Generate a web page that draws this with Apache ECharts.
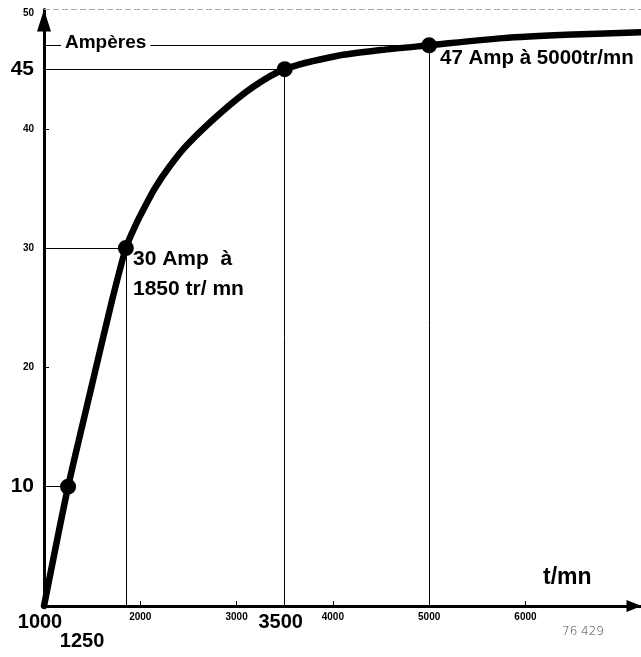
<!DOCTYPE html>
<html>
<head>
<meta charset="utf-8">
<script src="https://cdn.jsdelivr.net/npm/echarts@6/dist/echarts.min.js"></script>
<style>
html,body{margin:0;padding:0;background:#fff;}
#chart{width:641px;height:657px;}
</style>
</head>
<body>
<div id="chart"></div>
<script>
// Curve (rpm -> amperes)
const curveRpm  = [1000, 1250, 1500, 1700, 1850, 1950, 2050, 2150, 2300, 2480, 2830, 3170, 3500, 4040, 4500, 5000, 5770, 6500, 7200];
const curveAmps = [0,    10,   18.6, 25.4, 30,   31.9, 33.5, 35.0, 36.8, 38.6, 41.3, 43.5, 45,   46.1, 46.6, 47,   47.6, 47.9, 48.1];
// Marked points
const pointRpm  = [1250, 1850, 3500, 5000];
const pointAmps = [10,   30,   45,   47];
// Tick labels
const xLabelValues = [1000, 2000, 3000, 3500, 4000, 5000, 6000];
const xLowLabelValues = [1250];
const xBigLabels   = [1000, 1250, 3500];
const xTickValues  = [2000, 3000, 4000, 6000];
const yLabelValues = [10, 20, 30, 40, 45, 50];
const yBigLabels   = [10, 45];
const yTickValues  = [20, 40];
const xMin = 1000, xMax = 7200, yMin = 0, yMax = 50;

const FONT = 'Liberation Sans';
const chart = echarts.init(document.getElementById('chart'), null, {renderer: 'canvas'});

const curveData = curveRpm.map((r, i) => [r, curveAmps[i]]);
const pointData = pointRpm.map((r, i) => [r, pointAmps[i]]);

const refLines = [];
pointData.forEach(p => {
  refLines.push([{coord: [xMin, p[1]]}, {coord: [p[0], p[1]]}]);
  refLines.push([{coord: [p[0], p[0] === 1250 ? -2.4 : 0]}, {coord: [p[0], p[1]]}]);
});
refLines.push([
  {coord: [xMin, yMax], lineStyle: {color: '#aaa', width: 1, type: [6, 3]}},
  {coord: [xMax, yMax]}
]);

const bigX = {fontFamily: FONT, fontSize: 20, fontWeight: 'bold', color: '#000'};
const option = {
  animation: false,
  backgroundColor: '#fff',
  grid: {left: 44, right: 0, top: 9.5, bottom: 51, containLabel: false},
  xAxis: [{
    type: 'value', min: xMin, max: xMax,
    splitLine: {show: false},
    axisLine: {show: true, onZero: false, lineStyle: {color: '#000', width: 3},
      symbol: ['none', 'triangle'], symbolSize: [12, 15], symbolOffset: [0, -7]},
    axisTick: {show: true, inside: true, length: 5, customValues: xTickValues, lineStyle: {color: '#000', width: 1}},
    axisLabel: {
      show: true, margin: 6, customValues: xLabelValues, interval: 0,
      showMinLabel: true, showMaxLabel: true,
      formatter: v => (xBigLabels.indexOf(v) >= 0 ? '{b|' + v + '}' : '{s|' + v + '}'),
      rich: {
        b: Object.assign({padding: [0, 8, 0, 0]}, bigX),
        s: {fontFamily: FONT, fontSize: 10, fontWeight: 'bold', color: '#000'}
      }
    }
  }, {
    type: 'value', min: xMin, max: xMax, position: 'bottom', offset: 0,
    splitLine: {show: false},
    axisLine: {show: false},
    axisTick: {show: false},
    axisLabel: {
      show: true, margin: 25, customValues: xLowLabelValues, interval: 0,
      formatter: v => '{c|' + v + '}',
      rich: {c: Object.assign({padding: [0, 0, 0, 28]}, bigX)}
    }
  }],
  yAxis: {
    type: 'value', min: yMin, max: yMax,
    splitLine: {show: false},
    axisLine: {show: true, onZero: false, lineStyle: {color: '#000', width: 3},
      symbol: ['none', 'triangle'], symbolSize: [14, 22], symbolOffset: [0, -11]},
    axisTick: {show: true, inside: true, length: 5, customValues: yTickValues, lineStyle: {color: '#000', width: 1}},
    axisLabel: {
      show: true, margin: 10, customValues: yLabelValues, interval: 0, showMaxLabel: true,
      formatter: v => (yBigLabels.indexOf(v) >= 0 ? '{b|' + v + '}' : (v === 50 ? '{t|' + v + '}' : '{s|' + v + '}')),
      rich: {
        b: {fontFamily: FONT, fontSize: 21, fontWeight: 'bold', color: '#000'},
        s: {fontFamily: FONT, fontSize: 10, fontWeight: 'bold', color: '#000'},
        t: {fontFamily: FONT, fontSize: 10, fontWeight: 'bold', color: '#000', padding: [8, 0, 0, 0]}
      }
    }
  },
  series: [
    {
      type: 'line', xAxisIndex: 0, data: curveData, smooth: 0.25, showSymbol: false, symbol: 'none',
      lineStyle: {color: '#000', width: 6.5, cap: 'round', join: 'round'}, z: 3,
      markLine: {
        silent: true, symbol: ['none', 'none'], animation: false,
        label: {show: false},
        lineStyle: {color: '#000', width: 1, type: 'solid'},
        data: refLines
      }
    },
    {
      type: 'scatter', xAxisIndex: 0, data: pointData, symbol: 'circle', symbolSize: 16,
      itemStyle: {color: '#000', opacity: 1}, z: 4
    }
  ],
  graphic: [
    {type: 'text', left: 61, top: 33, z: 10,
      style: {text: 'Ampères', fontFamily: FONT, fontSize: 19, fontWeight: 'bold', fill: '#000',
        backgroundColor: '#fff', padding: [0, 4, 0, 4]}},
    {type: 'text', left: 133, top: 249, z: 10,
      style: {text: '30 Amp  à', fontFamily: FONT, fontSize: 21, fontWeight: 'bold', fill: '#000'}},
    {type: 'text', left: 133, top: 279, z: 10,
      style: {text: '1850 tr/ mn', fontFamily: FONT, fontSize: 21, fontWeight: 'bold', fill: '#000'}},
    {type: 'text', left: 440, top: 48, z: 10,
      style: {text: '47 Amp à 5000tr/mn', fontFamily: FONT, fontSize: 20.5, fontWeight: 'bold', fill: '#000'}},
    {type: 'text', left: 543, top: 566, z: 10,
      style: {text: 't/mn', fontFamily: FONT, fontSize: 23, fontWeight: 'bold', fill: '#000'}},
    {type: 'text', left: 562, top: 626, z: 10,
      style: {text: '76 429', fontFamily: 'DejaVu Sans', fontSize: 12, fontWeight: 200, fill: '#444'}}
  ]
};
chart.setOption(option);
</script>
</body>
</html>
